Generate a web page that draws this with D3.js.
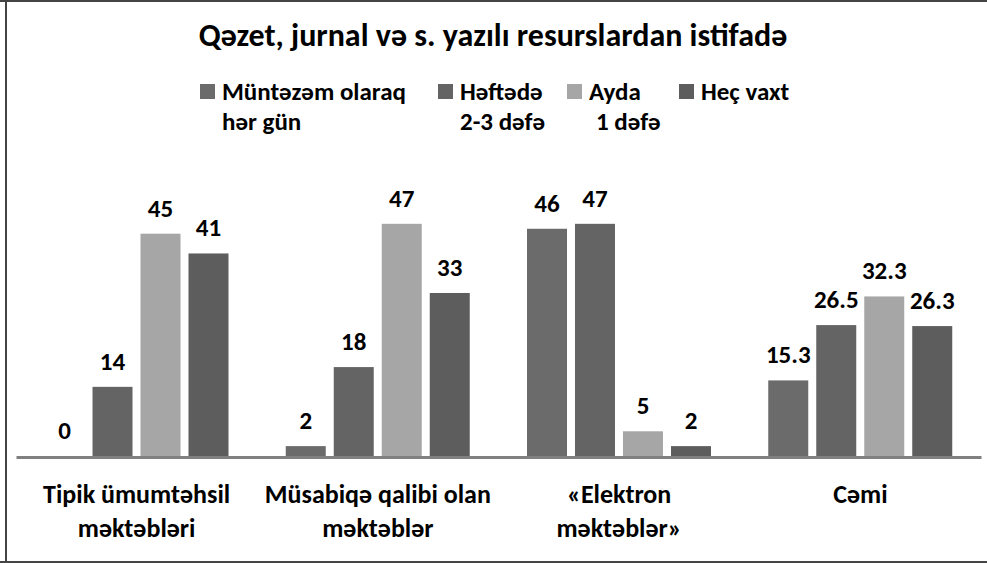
<!DOCTYPE html>
<html>
<head>
<meta charset="utf-8">
<script src="https://cdn.jsdelivr.net/npm/d3@7"></script>
<style>
  html, body { margin: 0; padding: 0; background: #fff; }
  svg { display: block; }
  text { font-family: Carlito, Lato, "Open Sans", sans-serif; font-weight: bold; fill: #000; }
</style>
</head>
<body>
<svg id="chart" width="987" height="563"></svg>
<script>
const title = "Qəzet, jurnal və s. yazılı resurslardan istifadə";
const categories = [
  ["Tipik ümumtəhsil", "məktəbləri"],
  ["Müsabiqə qalibi olan", "məktəblər"],
  ["«Elektron", "məktəblər»"],
  ["Cəmi"]
];
const seriesNames = [
  ["Müntəzəm olaraq", "hər gün"],
  ["Həftədə", "2-3 dəfə"],
  ["Ayda", "1 dəfə"],
  ["Heç vaxt"]
];
const seriesColors = ["#6b6b6b", "#646464", "#a6a6a6", "#5d5d5d"];
const muntezem = [0, 2, 46, 15.3];
const heftede = [14, 18, 47, 26.5];
const ayda = [45, 47, 5, 32.3];
const hecVaxt = [41, 33, 2, 26.3];
const values = [muntezem, heftede, ayda, hecVaxt];

const svg = d3.select("#chart");
const W = 987, H = 563;

// frame
svg.append("line").attr("x1", 0).attr("x2", W).attr("y1", 1).attr("y2", 1).attr("stroke", "#444").attr("stroke-width", 2);
svg.append("line").attr("x1", 6).attr("x2", 6).attr("y1", 0).attr("y2", H).attr("stroke", "#444").attr("stroke-width", 2);
svg.append("line").attr("x1", 0).attr("x2", W).attr("y1", 562).attr("y2", 562).attr("stroke", "#444").attr("stroke-width", 2);

// title
svg.append("text").attr("x", 493).attr("y", 46).attr("text-anchor", "middle")
  .style("font-size", "32px").text(title);

// scales
const catIdx = categories.map((d, i) => i);
const x0 = d3.scaleBand().domain(catIdx).range([16, 981]).padding(0);
const x1 = d3.scaleBand().domain([0, 1, 2, 3]).range([28.5, 212.5]).paddingInner(1 / 6).paddingOuter(0);
const y = d3.scaleLinear().domain([0, 50]).range([456, 209]);

// bars
const groups = svg.append("g").selectAll("g").data(catIdx).join("g")
  .attr("transform", c => `translate(${x0(c)},0)`);
groups.selectAll("rect").data(c => values.map((s, si) => ({ si, v: s[c] }))).join("rect")
  .attr("x", d => x1(d.si)).attr("width", x1.bandwidth())
  .attr("y", d => y(d.v)).attr("height", d => y(0) - y(d.v))
  .attr("fill", d => seriesColors[d.si]);
groups.selectAll("text.val").data(c => values.map((s, si) => ({ si, v: s[c] }))).join("text")
  .attr("class", "val")
  .attr("x", d => x1(d.si) + x1.bandwidth() / 2).attr("y", d => y(d.v) - 17)
  .attr("text-anchor", "middle").style("font-size", "25px")
  .text(d => String(d.v));

// axis
const axis = svg.append("g").attr("transform", `translate(0,${y(0) + 1})`)
  .call(d3.axisBottom(x0).tickSize(0).tickFormat(""));
axis.select(".domain").attr("stroke", "#808080").attr("stroke-width", 3);

// category labels
const cl = svg.append("g").selectAll("text").data(catIdx).join("text")
  .attr("x", c => x0(c) + x0.bandwidth() / 2).attr("y", 503)
  .attr("text-anchor", "middle").style("font-size", "26px");
cl.selectAll("tspan").data(c => categories[c]).join("tspan")
  .attr("x", function () { return d3.select(this.parentNode).attr("x"); })
  .attr("dy", (d, i) => i === 0 ? 0 : 34).text(d => d);

// legend
const legX = [200, 438, 567, 679];
const legTextDx = [22, 22, 22, 22];
const legLine2Dx = [22, 22, 29, 22];
const leg = svg.append("g").selectAll("g").data(seriesNames).join("g");
leg.append("rect").attr("x", (d, i) => legX[i]).attr("y", 84).attr("width", 15).attr("height", 15)
  .attr("fill", (d, i) => seriesColors[i]);
leg.append("text").attr("x", (d, i) => legX[i] + legTextDx[i]).attr("y", 100)
  .style("font-size", "25px").text(d => d[0]);
leg.filter(d => d.length > 1).append("text")
  .attr("x", function (d) { const i = seriesNames.indexOf(d); return legX[i] + legLine2Dx[i]; })
  .attr("y", 130).style("font-size", "25px").text(d => d[1]);
</script>
</body>
</html>
